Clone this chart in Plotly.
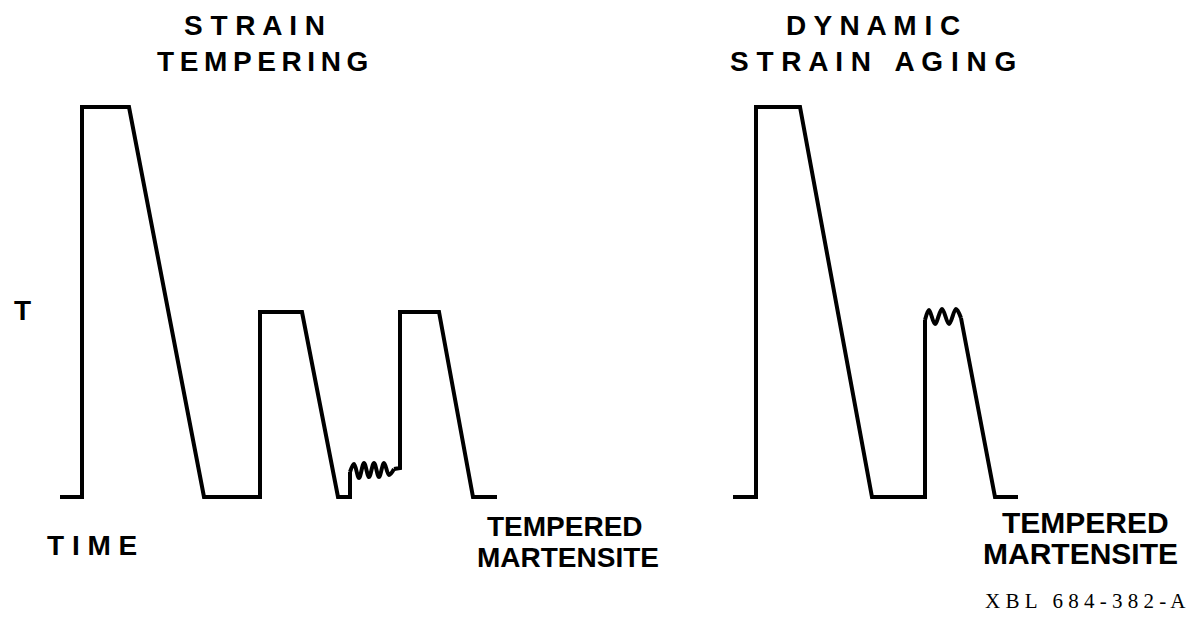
import plotly.graph_objects as go

# Picture is 1197 x 636; time runs left->right, rows run top->bottom (y axis reversed)
W, H = 1197, 636
PAD = 8  # default body margin of the html page

# strain tempering schedule
ST_TIME = [60, 82, 82, 129, 204, 260, 260, 302, 338, 350, 350]
ST_ROW = [497, 497, 107, 107, 497, 497, 312, 312, 497, 497, 472]
ST_WAVE_TIME = [350, 354, 359, 364, 369, 374, 379, 384, 389, 394]
ST_WAVE_ROW = [472, 464, 478, 463, 477, 463, 477, 463, 475, 469]
ST_END_TIME = [394, 400, 400, 439, 473, 497]
ST_END_ROW = [469, 468, 312, 312, 497, 497]

# dynamic strain aging schedule
DSA_TIME = [733, 756, 756, 800, 872, 925, 925]
DSA_ROW = [497, 497, 107, 107, 497, 497, 320]
DSA_WAVE_TIME = [925, 929, 935, 942, 949, 956, 961]
DSA_WAVE_ROW = [320, 310, 324, 309, 324, 309, 318]
DSA_END_TIME = [961, 995, 1018]
DSA_END_ROW = [318, 497, 497]

LINE = dict(color="black", width=4)
SANS = "Liberation Sans, Arial, sans-serif"
SERIF = "Liberation Serif, Times New Roman, serif"


def spread(s, gap=" "):
    return gap.join(s)


fig = go.Figure()

segments = [
    (ST_TIME, ST_ROW, "linear"),
    (ST_WAVE_TIME, ST_WAVE_ROW, "spline"),
    (ST_END_TIME, ST_END_ROW, "linear"),
    (DSA_TIME, DSA_ROW, "linear"),
    (DSA_WAVE_TIME, DSA_WAVE_ROW, "spline"),
    (DSA_END_TIME, DSA_END_ROW, "linear"),
]
for xs, ys, shape in segments:
    fig.add_trace(go.Scatter(x=xs, y=ys, mode="lines",
                             line=dict(**LINE, shape=shape),
                             showlegend=False, hoverinfo="skip"))

labels = [
    # text, x, y, size, family, weight, anchor
    (spread("STRAIN"), 254, 25, 28, SANS, "bold", "center"),
    (spread("TEMPERING", "\u2009"), 262, 61, 28, SANS, "bold", "center"),
    (spread("DYNAMIC"), 873, 25, 28, SANS, "bold", "center"),
    (spread("STRAIN") + "\u00a0\u00a0\u00a0" + spread("AGING"), 873, 61, 28, SANS, "bold", "center"),
    ("T", 22, 310, 28, SANS, "bold", "center"),
    (spread("TIME"), 45, 545, 28, SANS, "bold", "left"),
    ("TEMPERED", 565, 526, 28, SANS, "bold", "center"),
    ("MARTENSITE", 568, 557, 28, SANS, "bold", "center"),
    ("TEMPERED", 1085, 522, 30, SANS, "bold", "center"),
    ("MARTENSITE", 1080, 553, 30, SANS, "bold", "center"),
    (spread("XBL") + " \u00a0 " + spread("684-382-A"), 1188, 601, 21, SERIF, "normal", "right"),
]
for text, x, y, size, family, weight, anchor in labels:
    fig.add_annotation(x=x, y=y, text=text, showarrow=False, xanchor=anchor, yanchor="middle",
                       font=dict(family=family, size=size, color="black", weight=weight))

fig.update_layout(
    width=W - 2 * PAD, height=H - 2 * PAD,
    margin=dict(l=0, r=0, t=0, b=0),
    paper_bgcolor="white", plot_bgcolor="white",
    xaxis=dict(range=[PAD, W - PAD], visible=False, fixedrange=True),
    yaxis=dict(range=[H - PAD, PAD], visible=False, fixedrange=True),
)

fig.write_html("out.html")
